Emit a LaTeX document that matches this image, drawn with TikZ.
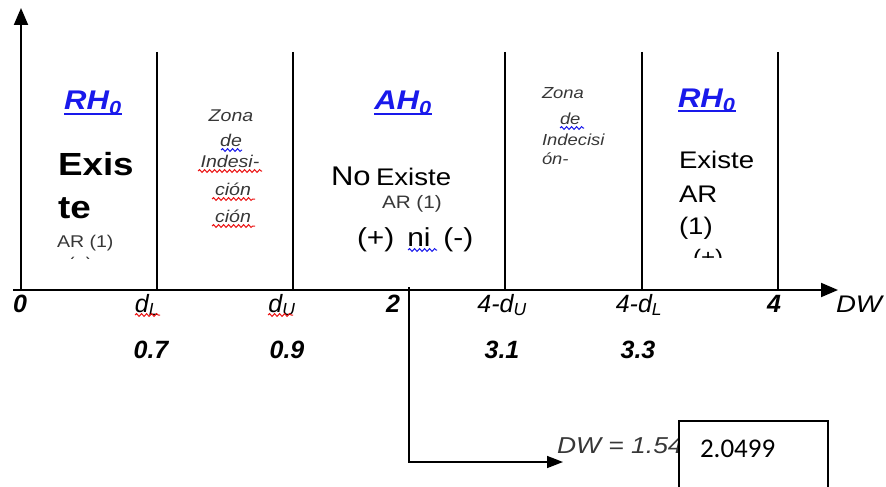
\documentclass[tikz,border=0pt]{standalone}
\usepackage{fontspec}
\setmainfont{Liberation Sans}
\newfontfamily\calib{Carlito}
\usepackage{graphicx}
\usetikzlibrary{arrows.meta,decorations.pathmorphing}
\definecolor{tblue}{RGB}{25,25,235}
\definecolor{tgrey}{RGB}{55,55,55}
\definecolor{wred}{RGB}{235,20,20}
\newcommand\hs[1]{\scalebox{1.15}[1]{#1}}
\newcommand\fs[1]{\fontsize{#1}{#1}\selectfont}
\tikzset{
  txt/.style={inner sep=0pt, outer sep=0pt},
  ttl/.style={txt, text=tblue, font=\fs{27}\bfseries\itshape, anchor=base},
  axlab/.style={txt, font=\fs{25}\bfseries\itshape, anchor=base},
  dlab/.style={txt, font=\fs{25}\itshape, anchor=base},
  zn/.style={txt, font=\fs{17}\itshape, text=tgrey, anchor=base},
  znr/.style={txt, font=\fs{16}\itshape, text=tgrey, anchor=base west},
  body/.style={txt, anchor=base west},
  wavyr/.style={wred, line width=1pt, decorate, decoration={snake, amplitude=1.4pt, segment length=5pt}},
  wavyb/.style={tblue, line width=1pt, decorate, decoration={snake, amplitude=1.4pt, segment length=5pt}},
  axisline/.style={line width=2pt, -{Triangle[length=17pt,width=14pt]}},
  sepline/.style={line width=2pt},
  conn/.style={line width=1.5pt, -{Triangle[length=16pt,width=12pt]}},
  uline/.style={tblue, line width=1.6pt}
}
\begin{document}
\begin{tikzpicture}[x=1pt,y=-1pt]
\useasboundingbox (0,0) rectangle (886,487);
\clip (0,0) rectangle (886,487);
% axes
\coordinate (yb) at (21,291);
\coordinate (yt) at (21,8);
\coordinate (xl) at (13,290);
\coordinate (xr) at (838,290);
\draw[axisline] (yb) -- (yt);
\draw[axisline] (xl) -- (xr);
% separators
\foreach \x in {157,293,505,642,778} \draw[sepline] (\x,52) -- (\x,290);

% left column
\node[ttl] (rh1) at (93,110) {\hs{RH\textsubscript{0}}};
\draw[uline] ([yshift=-4pt]rh1.base west) -- ([yshift=-4pt]rh1.base east);
\node[body, font=\fs{32}\bfseries] (ex1) at (58,175) {\hs{Exis}};
\node[body, font=\fs{32}\bfseries] (ex2) at (58,218) {\hs{te}};
\node[body, font=\fs{17}, text=tgrey] (ar1) at (57,247) {\hs{AR (1)}};
\begin{scope}
\clip (40,250) rectangle (150,258.5);
\node[body, font=\fs{17}, text=tgrey] (pl1) at (68,269) {\hs{(+)}};
\end{scope}

% left indecision zone
\node[zn] (z1a) at (231,121) {\hs{Zona}};
\node[zn] (z1b) at (231,146) {\hs{de}};
\node[zn] (z1c) at (230,167) {\hs{Indesi-}};
\node[zn] (z1d) at (233,195) {\hs{ción}};
\node[zn] (z1e) at (233,222) {\hs{ción}};
\draw[wavyb] (221,150) -- (242,150);
\draw[wavyr] (198,171) -- (262,171);
\draw[wavyr] (212,199) -- (255,199);
\draw[wavyr] (212,226) -- (255,226);

% middle column
\node[ttl] (ah) at (403,110) {\hs{AH\textsubscript{0}}};
\draw[uline] ([yshift=-4pt]ah.base west) -- ([yshift=-4pt]ah.base east);
\node[body, font=\fs{27}] (no) at (331,185) {\hs{No}};
\node[body, font=\fs{24}] (ex3) at (376,185) {\hs{Existe}};
\node[body, font=\fs{18}, text=tgrey] (ar2) at (382,208) {\hs{AR (1)}};
\node[body, font=\fs{26}] (pm) at (357,246) {\hs{(+)\hspace{4pt} ni\hspace{4pt} (-)}};
\draw[wavyb] (408,250) -- (437,250);

% right indecision zone
\node[znr] (z2a) at (542,98) {\hs{Zona}};
\node[znr] (z2b) at (560,124) {\hs{de}};
\node[znr] (z2c) at (542,145) {\hs{Indecisi}};
\node[znr] (z2d) at (542,164) {\hs{ón-}};
\draw[wavyb] (560,128) -- (584,128);

% right column
\node[ttl, anchor=base west] (rh2) at (678,107) {\hs{RH\textsubscript{0}}};
\draw[uline] ([yshift=-4pt]rh2.base west) -- ([yshift=-4pt]rh2.base east);
\node[body, font=\fs{24}] (ex4) at (679,168) {\hs{Existe}};
\node[body, font=\fs{24}] (ar3) at (679,202) {\hs{AR}};
\node[body, font=\fs{24}] (one3) at (679,234) {\hs{(1)}};
\begin{scope}
\clip (660,240) rectangle (770,257);
\node[body, font=\fs{21}] (pl3) at (693,264) {\hs{(+)}};
\end{scope}

% axis labels
\node[axlab] (l0) at (20,312) {0};
\node[dlab] (l1) at (147,312) {d\textsubscript{L}};
\node[dlab] (l2) at (282,312) {d\textsubscript{U}};
\node[axlab] (l3) at (393,312) {2};
\node[dlab] (l4) at (502,312) {4-d\textsubscript{U}};
\node[dlab] (l5) at (639,312) {4-d\textsubscript{L}};
\node[axlab] (l6) at (774,312) {4};
\node[txt, anchor=base west, font=\fs{24}\itshape] (dw) at (836,312) {\hs{DW}};
\draw[wavyr] (135,315) -- (160,315);
\draw[wavyr] (268,315) -- (293,315);
\node[axlab] (n1) at (151,358) {0.7};
\node[axlab] (n2) at (287,358) {0.9};
\node[axlab] (n3) at (502,358) {3.1};
\node[axlab] (n4) at (638,358) {3.3};

% result connector
\coordinate (c0) at (409,287);
\coordinate (c2) at (563,462);
\draw[conn] (c0) |- (c2);
\node[body, font=\fs{23}\itshape, text=tgrey] (dwv) at (557,453) {\hs{DW = 1.54}};
\node[draw, line width=1.5pt, fill=white, minimum width=149pt, minimum height=90pt, anchor=north west, inner sep=0pt] (box) at (678,420) {};
\node[body, font=\calib\fs{27}] (val) at (700,457) {2.0499};
\end{tikzpicture}
\end{document}
